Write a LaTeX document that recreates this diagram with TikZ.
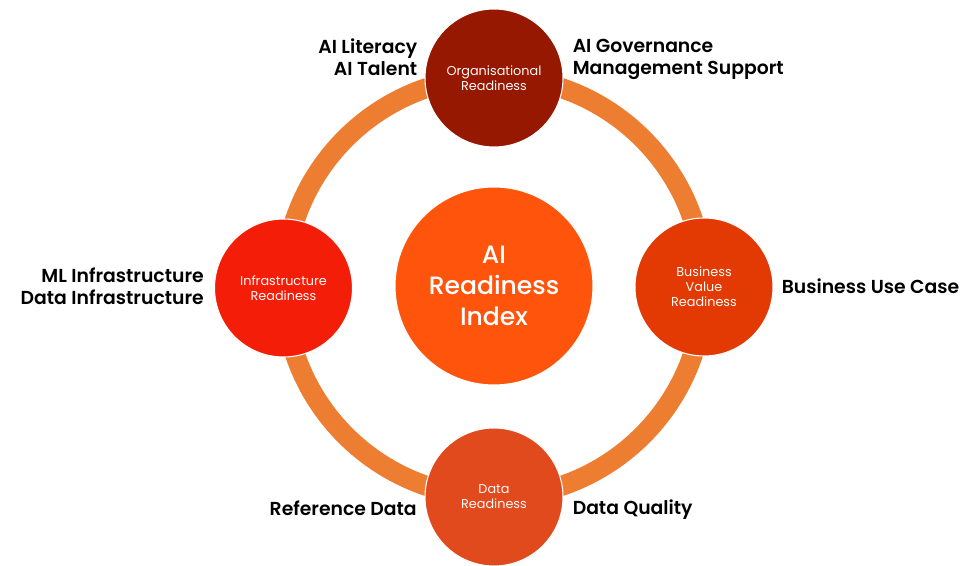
\documentclass[tikz,border=0pt]{standalone}
\usepackage{fontspec}
\setmainfont{Poppins}[BoldFont={Poppins SemiBold}]
\newfontfamily\indexfont{Poppins Medium}
\usepackage{tikz}
\usepackage{xcolor}
\definecolor{ringorange}{HTML}{ED7D31}
\definecolor{orgred}{HTML}{961800}
\definecolor{infrared}{HTML}{F41E08}
\definecolor{bizred}{HTML}{E23A02}
\definecolor{datared}{HTML}{E14A1C}
\definecolor{indexred}{HTML}{FF540B}

\tikzset{
  pillar/.style={circle, draw=white, line width=0.8pt, minimum size=103.5pt, inner sep=0pt,
    text=white!90!pink, align=center, font=\fontsize{9.6}{11.2}\selectfont},
  itemlabel/.style={inner sep=0pt, font=\bfseries\fontsize{14.1}{16.7}\selectfont}
}

\begin{document}
\begin{tikzpicture}[x=0.75pt,y=0.75pt,yscale=-1,xscale=1]
\path [use as bounding box] (0,0) rectangle (971,566);

%Shape: Ring
\draw [color=ringorange, line width=15pt] (494,287) circle (210);

%Shape: Circle [centre]
\node [circle, fill=indexred, draw=white, line width=0.8pt, minimum size=148.5pt, inner sep=0pt,
  text=white, align=center, font=\indexfont\fontsize{18.8}{23.2}\selectfont] (index) at (494,286) {AI\\Readiness\\Index};
%Shape: Circle [top]
\node [pillar, fill=orgred] (org) at (494,78) {Organisational\\Readiness};
%Shape: Circle [left]
\node [pillar, fill=infrared] (infra) at (283.5,288) {Infrastructure\\Readiness};
%Shape: Circle [right]
\node [pillar, fill=bizred] (bizval) at (704,287) {Business\\Value\\Readiness};
%Shape: Circle [bottom]
\node [pillar, fill=datared] (data) at (494,497) {Data\\Readiness};

% Text Node
\draw (417.5,75.7) node [itemlabel, anchor=base east, align=right] (literacy) {AI Literacy\\AI Talent};
% Text Node
\draw (572.5,74.3) node [itemlabel, anchor=base west, align=left] (governance) {AI Governance\\Management Support};
% Text Node
\draw (204,304.3) node [itemlabel, anchor=base east, align=right] (mlinfra) {ML Infrastructure\\Data Infrastructure};
% Text Node
\draw (781.5,293.3) node [itemlabel, anchor=base west, align=left] (usecase) {Business Use Case};
% Text Node
\draw (417,515.7) node [itemlabel, anchor=base east, align=right] (refdata) {Reference Data};
% Text Node
\draw (572.5,514.3) node [itemlabel, anchor=base west, align=left] (quality) {Data Quality};

\end{tikzpicture}
\end{document}
